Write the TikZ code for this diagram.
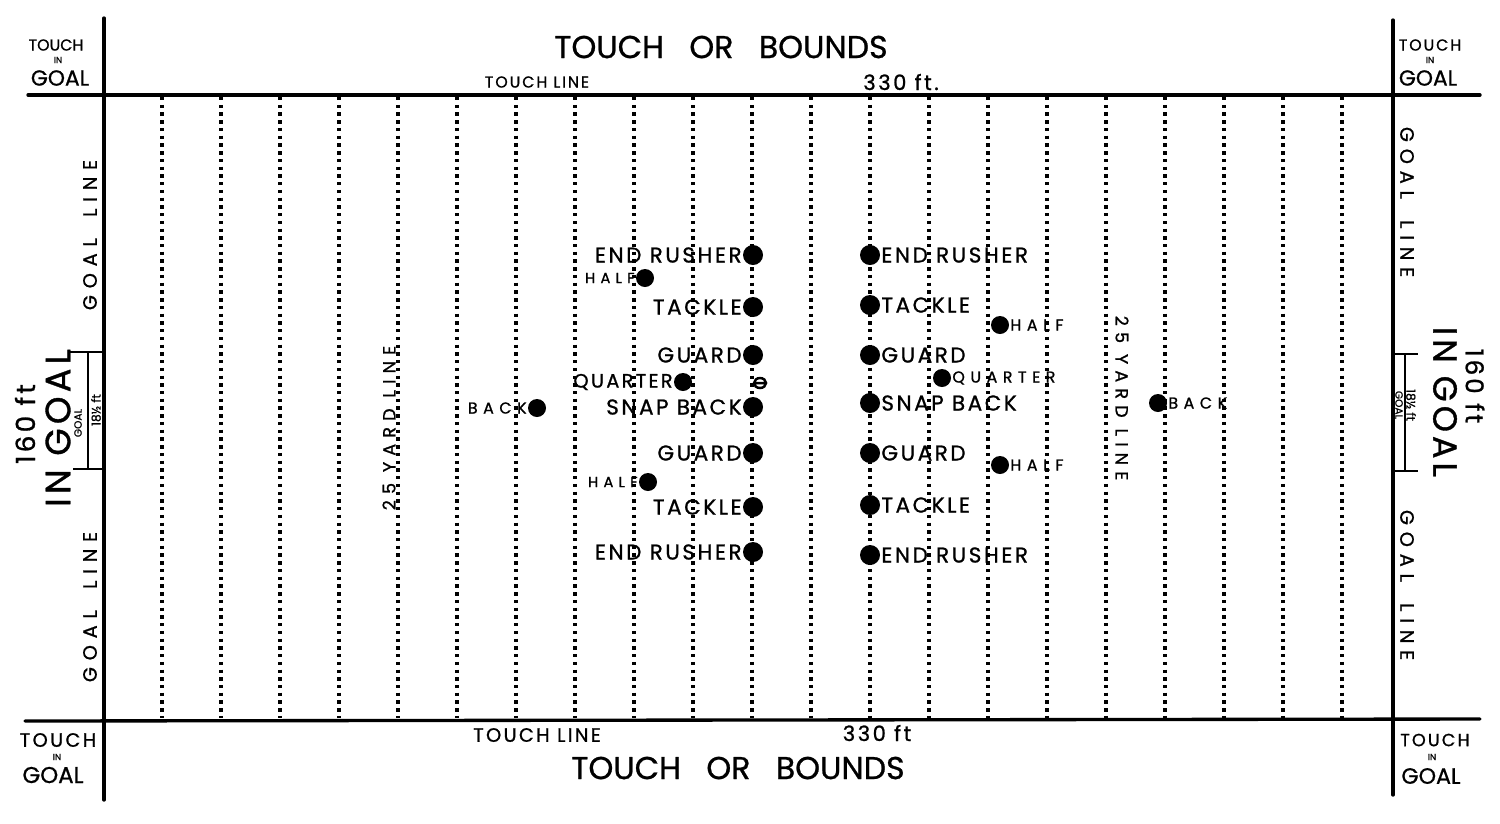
\documentclass[tikz,border=0pt]{standalone}
\usepackage{fontspec}
\setmainfont{Poppins}[FakeBold=0.8]
\newfontfamily\labelfont{Poppins}[LetterSpace=12, FakeBold=1]
\newfontfamily\widefont{Poppins}[LetterSpace=35, FakeBold=1]
\newcommand{\fsz}[1]{\fontsize{#1}{#1}\selectfont}

\begin{document}
\begin{tikzpicture}[x=0.01cm, y=-0.01cm,
      boundary/.style={
        line width=0.95pt,
        line cap=round
      },
      post/.style={
        line width=0.7pt
      },
      yardline/.style={
        line width=0.95pt,
        dash pattern=on 0.95pt off 1.25pt
      },
      bullet/.style={
        fill=black,
        circle,
        inner sep=0pt,
        minimum size=0.2cm
      },
      backdot/.style={
        bullet,
        minimum size=0.18cm
      },
      lbl/.style={
        inner sep=0pt,
        font=\labelfont\fsz{6.1}
      },
      wlbl/.style={
        inner sep=0pt,
        font=\widefont\fsz{4.5}
      },
    ]
    \useasboundingbox (0,0) rectangle (1500,823);

    \foreach \i in {1,...,21}
      \draw [yardline] (103+59*\i, 97) -- (103+59*\i, 718);

    \draw [boundary] (28,95) -- (1480,95);
    \draw [boundary] (25,721) -- (1480,719);
    \draw [boundary] (104,18) -- (104,800);
    \draw [boundary] (1393,20) -- (1393,795);

    \draw [post] (68,352) -- (104,352) (88,352) -- (88,469) (73,469) -- (104,469);
    \draw [post] (1393,354) -- (1418,354) (1405,354) -- (1405,471) (1393,471) -- (1418,471);

    \node [font=\fsz{9}] (topbounds) at (721,47) {TOUCH\hspace{0.8em}OR\hspace{0.8em}BOUNDS};
    \node [lbl, font=\labelfont\fsz{4.5}] (toptouch) at (537,82) {TOUCH LINE};
    \node [lbl, font=\labelfont\fsz{6}] (toplength) at (901,82) {330 ft.};
    \node [font=\fsz{9}] (botbounds) at (738,768) {TOUCH\hspace{0.8em}OR\hspace{0.8em}BOUNDS};
    \node [lbl, font=\labelfont\fsz{5.5}] (bottouch) at (537,735) {TOUCH LINE};
    \node [lbl, font=\labelfont\fsz{6}] (botlength) at (877,733) {330 ft};

    \node [font=\fsz{4.5}] (tltouch) at (56,45) {TOUCH};
    \node [font=\fsz{2.5}] (tlin) at (58,60) {IN};
    \node [font=\fsz{6.2}] (tlgoal) at (60,78) {GOAL};
    \node [font=\labelfont\fsz{4.5}] (trtouch) at (1430,45) {TOUCH};
    \node [font=\fsz{2.5}] (trin) at (1430,60) {IN};
    \node [font=\fsz{6.2}] (trgoal) at (1428,78) {GOAL};
    \node [font=\labelfont\fsz{5.5}] (bltouch) at (58,740) {TOUCH};
    \node [font=\fsz{2.5}] (blin) at (57,757) {IN};
    \node [font=\fsz{6.5}] (blgoal) at (53,775) {GOAL};
    \node [font=\labelfont\fsz{5}] (brtouch) at (1435,740) {TOUCH};
    \node [font=\fsz{2.5}] (brin) at (1432,757) {IN};
    \node [font=\fsz{6.3}] (brgoal) at (1431,776) {GOAL};

    \node [wlbl, font=\widefont\fsz{5.5}, rotate=90] (lgoalline1) at (90,235) {GOAL\hspace{1.1em}LINE};
    \node [wlbl, font=\widefont\fsz{5.5}, rotate=90] (lgoalline2) at (90,607) {GOAL\hspace{1.1em}LINE};
    \node [lbl, font=\labelfont\fsz{10}, rotate=90] (lingoal) at (58,428) {IN GOAL};
    \node [lbl, font=\labelfont\fsz{7.5}, rotate=90] (lwidth) at (25,424) {160 ft};
    \node [font=\fsz{3}, rotate=90] (lgoal) at (78,423) {GOAL};
    \node [font=\fsz{3.5}, rotate=90] (lpost) at (96,410) {18½ ft};
    \node [wlbl, font=\widefont\fsz{5}, rotate=90] (lyard) at (389,428) {25 YARD LINE};

    \node [wlbl, font=\widefont\fsz{5.5}, rotate=-90] (rgoalline1) at (1407,202) {GOAL\hspace{1.1em}LINE};
    \node [wlbl, font=\widefont\fsz{5.5}, rotate=-90] (rgoalline2) at (1407,585) {GOAL\hspace{1.1em}LINE};
    \node [lbl, font=\labelfont\fsz{9.5}, rotate=-90] (ringoal) at (1445,402) {IN GOAL};
    \node [lbl, font=\labelfont\fsz{7}, rotate=-90] (rwidth) at (1475,386) {160 ft};
    \node [font=\fsz{3}, rotate=-90] (rgoal) at (1399,405) {GOAL};
    \node [font=\fsz{3.5}, rotate=-90] (rpost) at (1411,405) {18½ ft};
    \node [wlbl, font=\widefont\fsz{5}, rotate=-90] (ryard) at (1122,398) {25 YARD LINE};

    \node [bullet, label distance=0.02cm, label={[lbl]left:END RUSHER}] (le1) at (753,255) {};
    \node [backdot, label distance=0.02cm, label={[wlbl, font=\widefont\fsz{4.2}]left:HALF}] (lh1) at (645,278) {};
    \node [bullet, label distance=0.03cm, label={[lbl]left:TACKLE}] (lt1) at (753,307) {};
    \node [bullet, label distance=0.17cm, label={[lbl]left:GUARD}] (lg1) at (753,355) {};
    \node [backdot, label distance=0.46cm, label={[lbl, font=\labelfont\fsz{5.5}]left:QUARTER}] (lq) at (683,382) {};
    \node [bullet, label distance=0.19cm, label={[lbl]left:SNAP BACK}] (ls) at (753,407) {};
    \node [backdot, label distance=0.05cm, label={[wlbl]left:BACK}] (lb) at (537,408) {};
    \node [bullet, label distance=0.19cm, label={[lbl]left:GUARD}] (lg2) at (753,453) {};
    \node [backdot, label distance=0.02cm, label={[wlbl, font=\widefont\fsz{4.2}]left:HALF}] (lh2) at (648,482) {};
    \node [bullet, label distance=0.15cm, label={[lbl]left:TACKLE}] (lt2) at (753,507) {};
    \node [bullet, label distance=0.07cm, label={[lbl]left:END RUSHER}] (le2) at (753,552) {};
    \draw [post] (760,383) ellipse [x radius=6, y radius=5] (754,383) -- (766,383);

    \node [bullet, label distance=0.12cm, label={[lbl]right:END RUSHER}] (re1) at (870,255) {};
    \node [bullet, label distance=0.12cm, label={[lbl]right:TACKLE}] (rt1) at (870,305) {};
    \node [backdot, label distance=0.13cm, label={[wlbl]right:HALF}] (rh1) at (1000,325) {};
    \node [bullet, label distance=0.07cm, label={[lbl]right:GUARD}] (rg1) at (870,355) {};
    \node [backdot, label distance=0.12cm, label={[wlbl]right:QUARTER}] (rq) at (942,378) {};
    \node [bullet, label distance=0.07cm, label={[lbl]right:SNAP BACK}] (rs) at (870,403) {};
    \node [backdot, label distance=0.2cm, label={[wlbl]right:BACK}] (rb) at (1158,403) {};
    \node [bullet, label distance=0.07cm, label={[lbl]right:GUARD}] (rg2) at (870,453) {};
    \node [backdot, label distance=0.14cm, label={[wlbl]right:HALF}] (rh2) at (1000,465) {};
    \node [bullet, label distance=0.1cm, label={[lbl]right:TACKLE}] (rt2) at (870,505) {};
    \node [bullet, label distance=0.1cm, label={[lbl]right:END RUSHER}] (re2) at (870,555) {};
\end{tikzpicture}
\end{document}
